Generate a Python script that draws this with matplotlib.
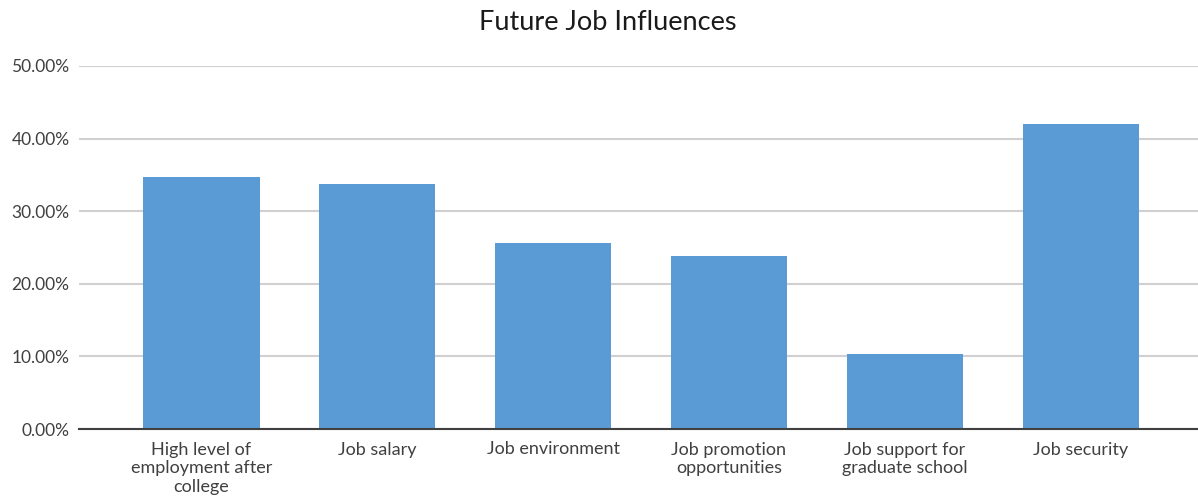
import matplotlib
matplotlib.use("Agg")
import matplotlib.pyplot as plt
from matplotlib.ticker import FuncFormatter

categories = ["High level of\nemployment after\ncollege", "Job salary", "Job environment",
              "Job promotion\nopportunities", "Job support for\ngraduate school", "Job security"]
values = [34.75, 33.8, 25.65, 23.85, 10.3, 41.95]
yticks = [0, 10, 20, 30, 40, 50]

plt.rcParams['font.family'] = ['Lato', 'DejaVu Sans']

fig = plt.figure(figsize=(11.98, 5), dpi=100)
ax = fig.add_axes([79.3 / 1198, (500 - 429) / 500, 1 - 79.3 / 1198, (429 - 66) / 500])

x = list(range(len(categories)))
ax.bar(x, values, width=0.66, color="#5b9bd5", zorder=3)

ax.set_ylim(0, 50)
ax.set_xlim(-0.695, 5.668)
ax.set_yticks(yticks)
ax.yaxis.set_major_formatter(FuncFormatter(lambda v, p: f"{v:.2f}%"))
ax.grid(axis="y", color="#d0d0d0", linewidth=1.5, zorder=0)
ax.set_xticks(x)
ax.set_xticklabels(categories, fontsize=13, color="#404040", linespacing=1.2, va="top")
ax.tick_params(axis="y", labelsize=12.5, labelcolor="#404040", length=0, pad=7)
ax.tick_params(axis="x", length=0, pad=9)
for s in ["top", "right", "left"]:
    ax.spines[s].set_visible(False)
ax.spines["bottom"].set_color("#404040")
ax.spines["bottom"].set_linewidth(1.5)
ax.spines["bottom"].set_zorder(4)

fig.text(608 / 1198, 1 - 22 / 500, "Future Job Influences", ha="center", va="center",
         fontsize=19.5, color="#1a1a1a")

fig.savefig("out.png", dpi=100, facecolor="white")
